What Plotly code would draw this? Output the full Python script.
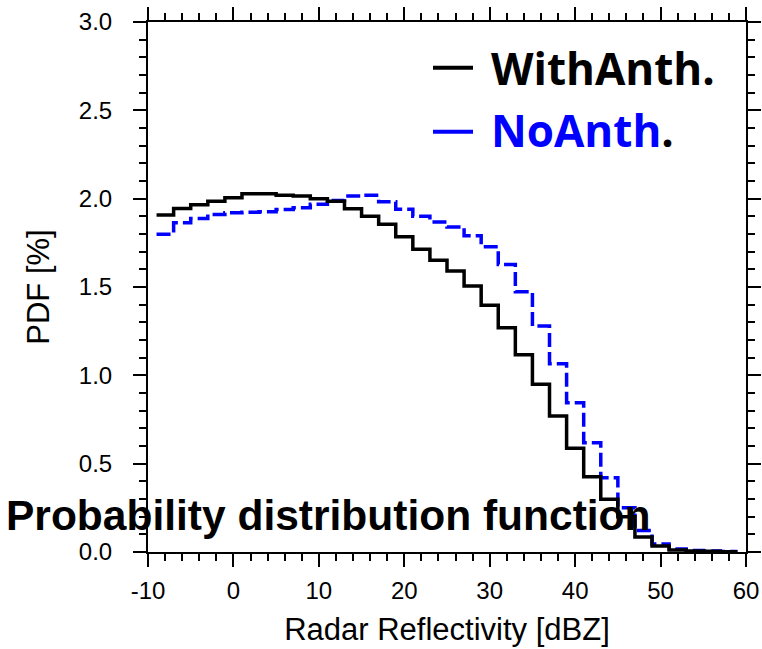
import plotly.graph_objects as go

# Bin positions (dBZ) - left edge of each horizontal step
reflectivity = [-9, -7, -5, -3, -1, 1, 3, 5, 7, 9, 11, 13, 15, 17, 19, 21, 23, 25,
                27, 29, 31, 33, 35, 37, 39, 41, 43, 45, 47, 49, 51, 53, 55, 57, 59]

# PDF [%] with anthropogenic emissions
with_anth = [1.907, 1.945, 1.966, 1.985, 2.005, 2.028, 2.028, 2.020, 2.015, 2.000,
             1.986, 1.943, 1.900, 1.855, 1.785, 1.713, 1.652, 1.590, 1.505, 1.396,
             1.269, 1.116, 0.949, 0.770, 0.587, 0.426, 0.298, 0.200, 0.085, 0.034,
             0.012, 0.006, 0.004, 0.002, 0.002]

# PDF [%] without anthropogenic emissions
no_anth = [1.798, 1.864, 1.888, 1.911, 1.920, 1.923, 1.926, 1.939, 1.949, 1.968,
           1.990, 2.015, 2.020, 1.982, 1.940, 1.900, 1.868, 1.840, 1.790, 1.728,
           1.628, 1.473, 1.279, 1.066, 0.845, 0.619, 0.420, 0.251, 0.121, 0.045,
           0.017, 0.008, 0.005, 0.003, 0.003]

x_tickvals = [-10, 0, 10, 20, 30, 40, 50, 60]
x_ticktext = ["-10", "0", "10", "20", "30", "40", "50", "60"]
y_tickvals = [0.0, 0.5, 1.0, 1.5, 2.0, 2.5, 3.0]
y_ticktext = ["0.0", "0.5", "1.0", "1.5", "2.0", "2.5", "3.0"]

fig = go.Figure()
fig.add_trace(go.Scatter(x=reflectivity, y=no_anth, mode="lines", line_shape="hv",
                         line=dict(color="#0000ff", width=3.5, dash="14px,5px"),
                         name="NoAnth.", showlegend=False))
fig.add_trace(go.Scatter(x=reflectivity, y=with_anth, mode="lines", line_shape="hv",
                         line=dict(color="black", width=3.5),
                         name="WithAnth.", showlegend=False))

axis_font = dict(family="Liberation Sans, Arial, sans-serif", size=24, color="black")
title_font = dict(family="Liberation Sans, Arial, sans-serif", size=31, color="black")

fig.update_xaxes(range=[-10, 60], tickvals=x_tickvals, ticktext=x_ticktext,
                 ticks="outside", ticklen=13, tickwidth=2, tickcolor="black",
                 minor=dict(dtick=2, ticks="outside", ticklen=7, tickwidth=1.5, tickcolor="black"),
                 showline=True, linewidth=2, linecolor="black", mirror="allticks",
                 showgrid=False, zeroline=False, tickfont=axis_font, automargin=False,
                 ticklabelstandoff=3,
                 title=dict(text="Radar Reflectivity [dBZ]", font=title_font, standoff=16))
fig.update_yaxes(range=[0, 3], tickvals=y_tickvals, ticktext=y_ticktext,
                 ticks="outside", ticklen=13, tickwidth=2, tickcolor="black",
                 minor=dict(dtick=0.1, ticks="outside", ticklen=7, tickwidth=1.5, tickcolor="black"),
                 showline=True, linewidth=2, linecolor="black", mirror="allticks",
                 showgrid=False, zeroline=False, tickfont=axis_font, automargin=False,
                 ticklabelstandoff=16,
                 title=dict(text="PDF [%]", font=title_font, standoff=20))

# Legend drawn by hand (top right)
leg_font = dict(family="Open Sans, sans-serif", size=44)
fig.add_shape(type="line", xref="paper", yref="paper", x0=0.4766, x1=0.5435,
              y0=0.9138, y1=0.9138, line=dict(color="black", width=4))
fig.add_shape(type="line", xref="paper", yref="paper", x0=0.4766, x1=0.5435,
              y0=0.793, y1=0.793, line=dict(color="#0000ff", width=4))
fig.add_annotation(xref="paper", yref="paper", x=0.5697, y=0.9138, xanchor="left",
                   yanchor="middle", showarrow=False, text="<b>WithAnth.</b>",
                   font=dict(color="black", **leg_font))
fig.add_annotation(xref="paper", yref="paper", x=0.5697, y=0.796, xanchor="left",
                   yanchor="middle", showarrow=False,
                   text="<b><span style='color:#0000ff'>NoAnth</span>.</b>",
                   font=dict(color="black", **leg_font))

fig.add_annotation(xref="paper", yref="paper", x=-0.241, y=0.069, xanchor="left",
                   yanchor="middle", showarrow=False,
                   text="<b>Probability distribution function</b>",
                   font=dict(family="Liberation Sans, Arial, sans-serif", size=42.5, color="black"))

fig.update_layout(width=762, height=649, margin=dict(l=148, r=16, t=22, b=97),
                  plot_bgcolor="white", paper_bgcolor="white")

fig.write_html("out.html", config={"displayModeBar": False},
               post_script="document.body.style.margin='0';document.body.style.overflow='hidden';")
